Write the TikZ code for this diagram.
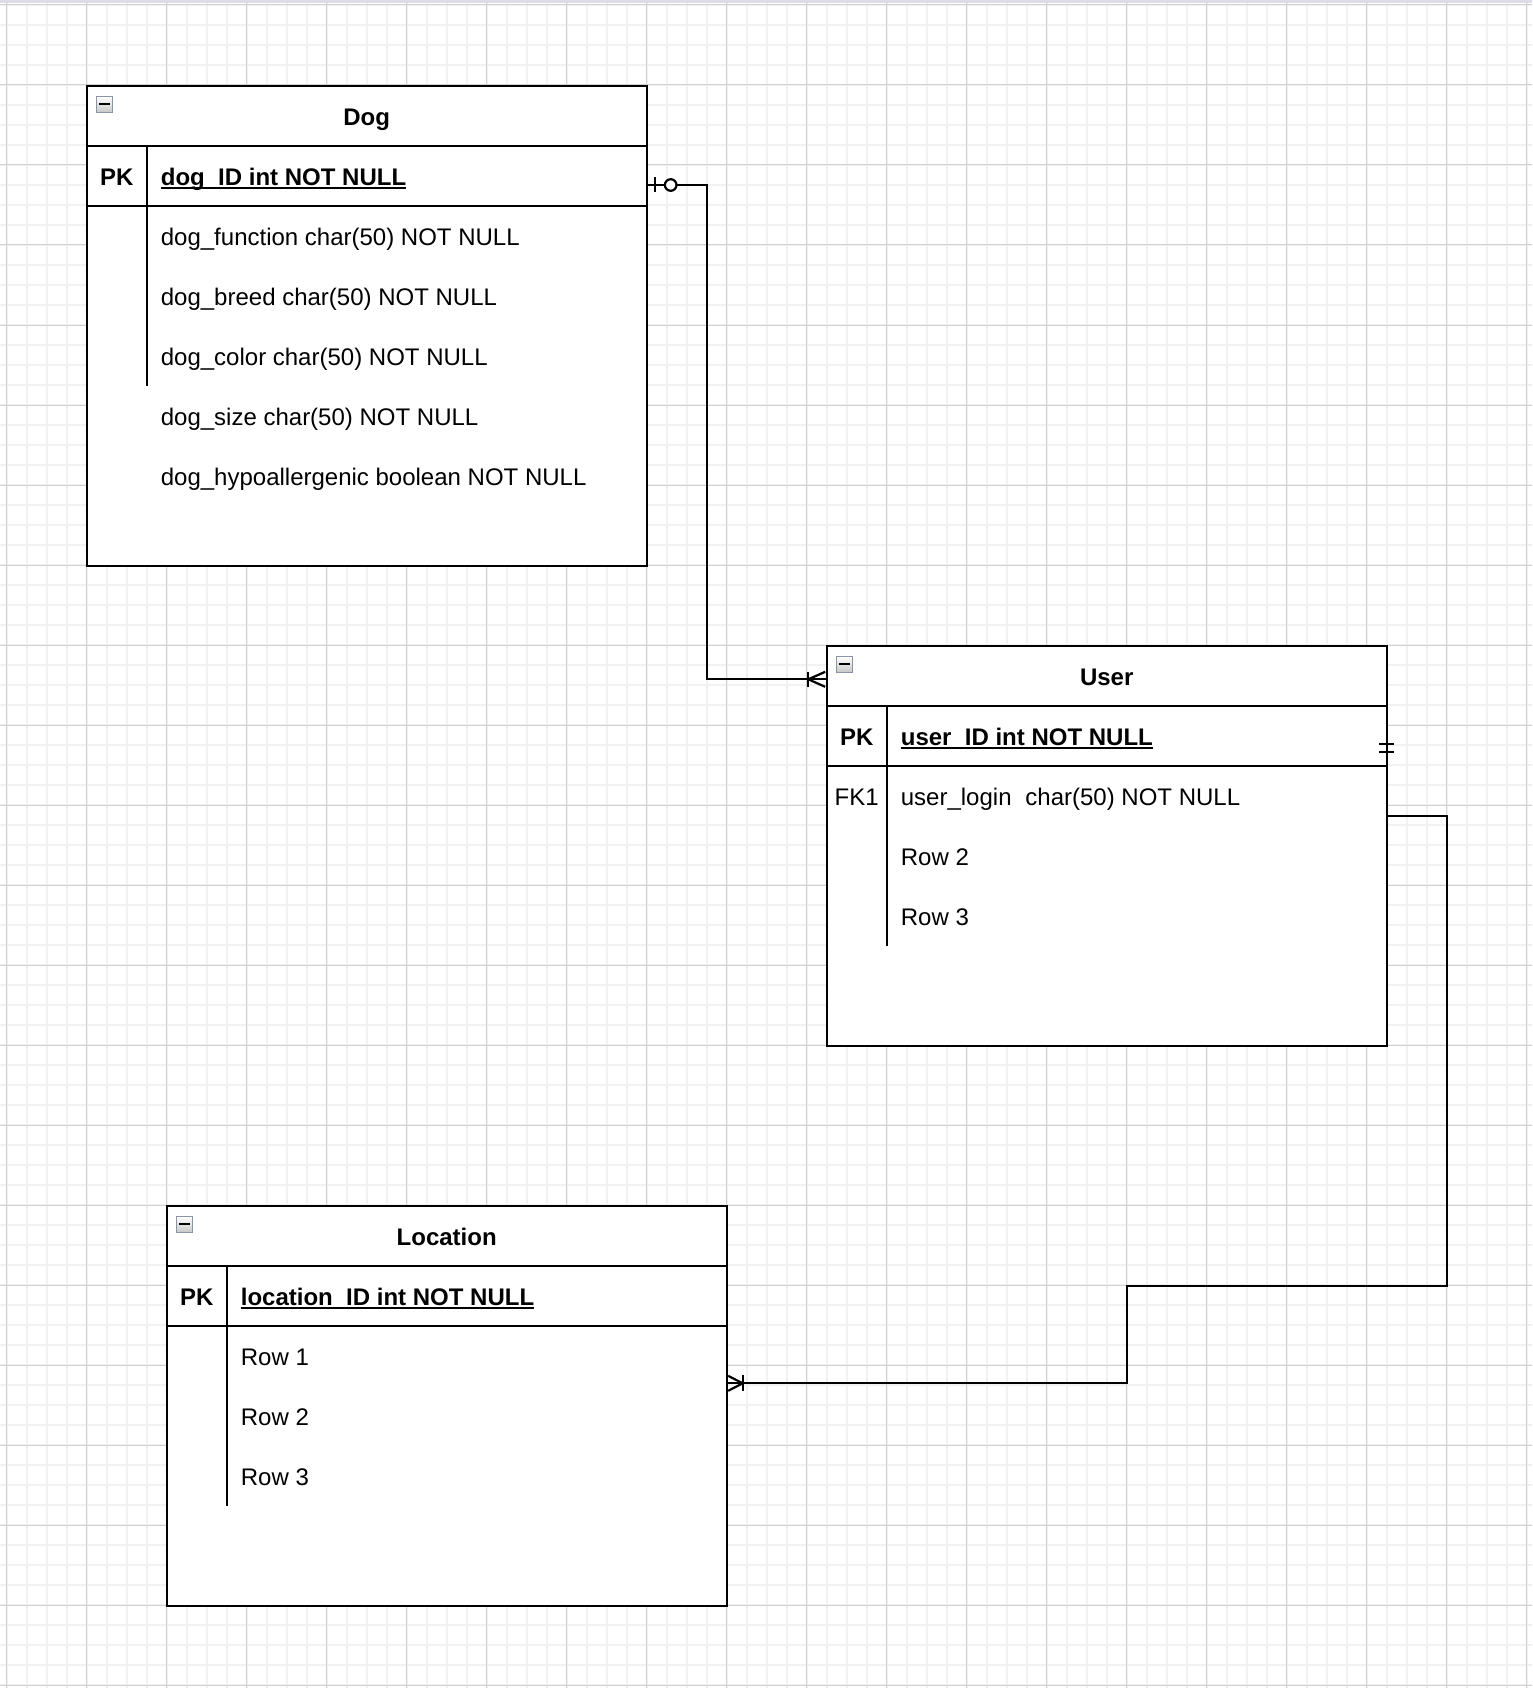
\documentclass[tikz,border=0pt]{standalone}
\usepackage{fontspec}
\setmainfont{Liberation Sans}
\usetikzlibrary{calc,shadings}
\definecolor{gminor}{RGB}{242,242,242}
\definecolor{gmajor}{RGB}{208,208,208}
\definecolor{lav}{RGB}{222,220,230}
\definecolor{icongray}{RGB}{140,147,166}
\begin{document}
\begin{tikzpicture}[x=1pt,y=-1pt,
  tb/.style={draw=black,line width=2.2pt,fill=white,inner sep=0pt,outer sep=0pt,anchor=north west},
  ln/.style={line width=2.2pt},
  txt/.style={inner sep=0pt,anchor=base west,font=\fontsize{24}{28}\selectfont},
  txtc/.style={inner sep=0pt,anchor=base,font=\fontsize{24}{28}\selectfont},
  uline/.style={line width=2pt},
  icon/.style={draw=icongray,line width=1.2pt,top color=white,bottom color=black!22}]
\useasboundingbox (0,0) rectangle (1532,1688);
\fill[white] (0,0) rectangle (1532,1688);
% grid
\foreach \i in {0,...,76} {\draw[gminor,line width=2pt] ({6.67+20*\i},3) -- ({6.67+20*\i},1688);}
\foreach \i in {0,...,84} {\draw[gminor,line width=2pt] (0,{5+20*\i}) -- (1532,{5+20*\i});}
\foreach \i in {0,...,19} {\draw[gmajor,line width=1pt] ({6.67+80*\i},3) -- ({6.67+80*\i},1688);}
\foreach \i in {0,...,21} {\draw[gmajor,line width=1pt] (0,{5+80*\i}) -- (1532,{5+80*\i});}
\fill[lav] (0,0) rectangle (1532,3);

% ---------- Dog ----------
\node[tb,minimum width=560pt,minimum height=480pt] (dog) at (86.67,86) {};
\begin{scope}[shift={(86.67,86)}]
  \draw[icon] (9.5,10.5) rectangle ++(16.5,16);
  \draw[line width=2pt] (12.8,17.8) -- ++(11,0);
  \draw[ln] (0,60) -- (560,60);
  \draw[ln] (0,120) -- (560,120);
  \draw[ln] (60,60) -- (60,300);
  \node[txtc] (dogtitle) at (280,39.6) {\bfseries Dog};
  \node[txtc] (dogpk) at (30,99.6) {\bfseries PK};
  \node[txt] (dogid) at (74,99.6) {\bfseries dog\_ID int NOT NULL};
  \node[txt] (dogr1) at (74,159.6) {dog\_function char(50) NOT NULL};
  \node[txt] (dogr2) at (74,219.6) {dog\_breed char(50) NOT NULL};
  \node[txt] (dogr3) at (74,279.6) {dog\_color char(50) NOT NULL};
  \node[txt] (dogr4) at (74,339.6) {dog\_size char(50) NOT NULL};
  \node[txt] (dogr5) at (74,399.6) {dog\_hypoallergenic boolean NOT NULL};
\end{scope}
\draw[uline] ($(dogid.base west)+(0,2.8)$) -- ($(dogid.base east)+(0,2.8)$);

% ---------- User ----------
\node[tb,minimum width=560pt,minimum height=400pt] (user) at (826.67,646) {};
\begin{scope}[shift={(826.67,646)}]
  \draw[icon] (9.5,10.5) rectangle ++(16.5,16);
  \draw[line width=2pt] (12.8,17.8) -- ++(11,0);
  \draw[ln] (0,60) -- (560,60);
  \draw[ln] (0,120) -- (560,120);
  \draw[ln] (60,60) -- (60,300);
  \node[txtc] (usertitle) at (280,39.6) {\bfseries User};
  \node[txtc] (userpk) at (30,99.6) {\bfseries PK};
  \node[txt] (userid) at (74,99.6) {\bfseries user\_ID int NOT NULL};
  \node[txtc] (userfk) at (30,159.6) {FK1};
  \node[txt] (userr1) at (74,159.6) {user\_login\hspace{0.3em} char(50) NOT NULL};
  \node[txt] (userr2) at (74,219.6) {Row 2};
  \node[txt] (userr3) at (74,279.6) {Row 3};
\end{scope}
\draw[uline] ($(userid.base west)+(0,2.8)$) -- ($(userid.base east)+(0,2.8)$);

% ---------- Location ----------
\node[tb,minimum width=560pt,minimum height=400pt] (loc) at (166.67,1206) {};
\begin{scope}[shift={(166.67,1206)}]
  \draw[icon] (9.5,10.5) rectangle ++(16.5,16);
  \draw[line width=2pt] (12.8,17.8) -- ++(11,0);
  \draw[ln] (0,60) -- (560,60);
  \draw[ln] (0,120) -- (560,120);
  \draw[ln] (60,60) -- (60,300);
  \node[txtc] (loctitle) at (280,39.6) {\bfseries Location};
  \node[txtc] (locpk) at (30,99.6) {\bfseries PK};
  \node[txt] (locid) at (74,99.6) {\bfseries location\_ID int NOT NULL};
  \node[txt] (locr1) at (74,159.6) {Row 1};
  \node[txt] (locr2) at (74,219.6) {Row 2};
  \node[txt] (locr3) at (74,279.6) {Row 3};
\end{scope}
\draw[uline] ($(locid.base west)+(0,2.8)$) -- ($(locid.base east)+(0,2.8)$);

% ---------- Connector Dog -> User ----------
\coordinate (c1s) at ($(dog.north east)+(0,99)$);
\coordinate (c1e) at ($(user.north west)+(0,33.3)$);
\draw[ln] (c1s) -- ++(60.6,0) |- (c1e);
\draw[ln] ($(c1s)+(8.3,-7.5)$) -- ++(0,15);
\draw[ln,fill=white] ($(c1s)+(24,0)$) circle (5.8);
\draw[ln] ($(c1e)+(-18.4,-7.5)$) -- ++(0,15);
\draw[ln] ($(c1e)+(-1.5,-7.5)$) -- ($(c1e)+(-18.4,0)$) -- ($(c1e)+(-1.5,7.5)$);

% ---------- Connector User -> Location ----------
\coordinate (c2s) at ($(user.north east)+(0,90)$);
\coordinate (c2e) at ($(loc.north east)+(0,177.3)$);
\draw[ln] (c2s) -- ++(0,79.7) -- ++(60,0) -- ++(0,470.3) -- ++(-320,0) -- ++(0,97.3) -- (c2e);
\draw[ln] ($(c2s)+(-7.4,8)$) -- ++(15,0);
\draw[ln] ($(c2s)+(-7.4,16)$) -- ++(15,0);
\draw[ln] ($(c2e)+(16,-8)$) -- ++(0,16);
\draw[ln] ($(c2e)+(1.5,-7.5)$) -- ($(c2e)+(16,0)$) -- ($(c2e)+(1.5,7.5)$);
\end{tikzpicture}
\end{document}
